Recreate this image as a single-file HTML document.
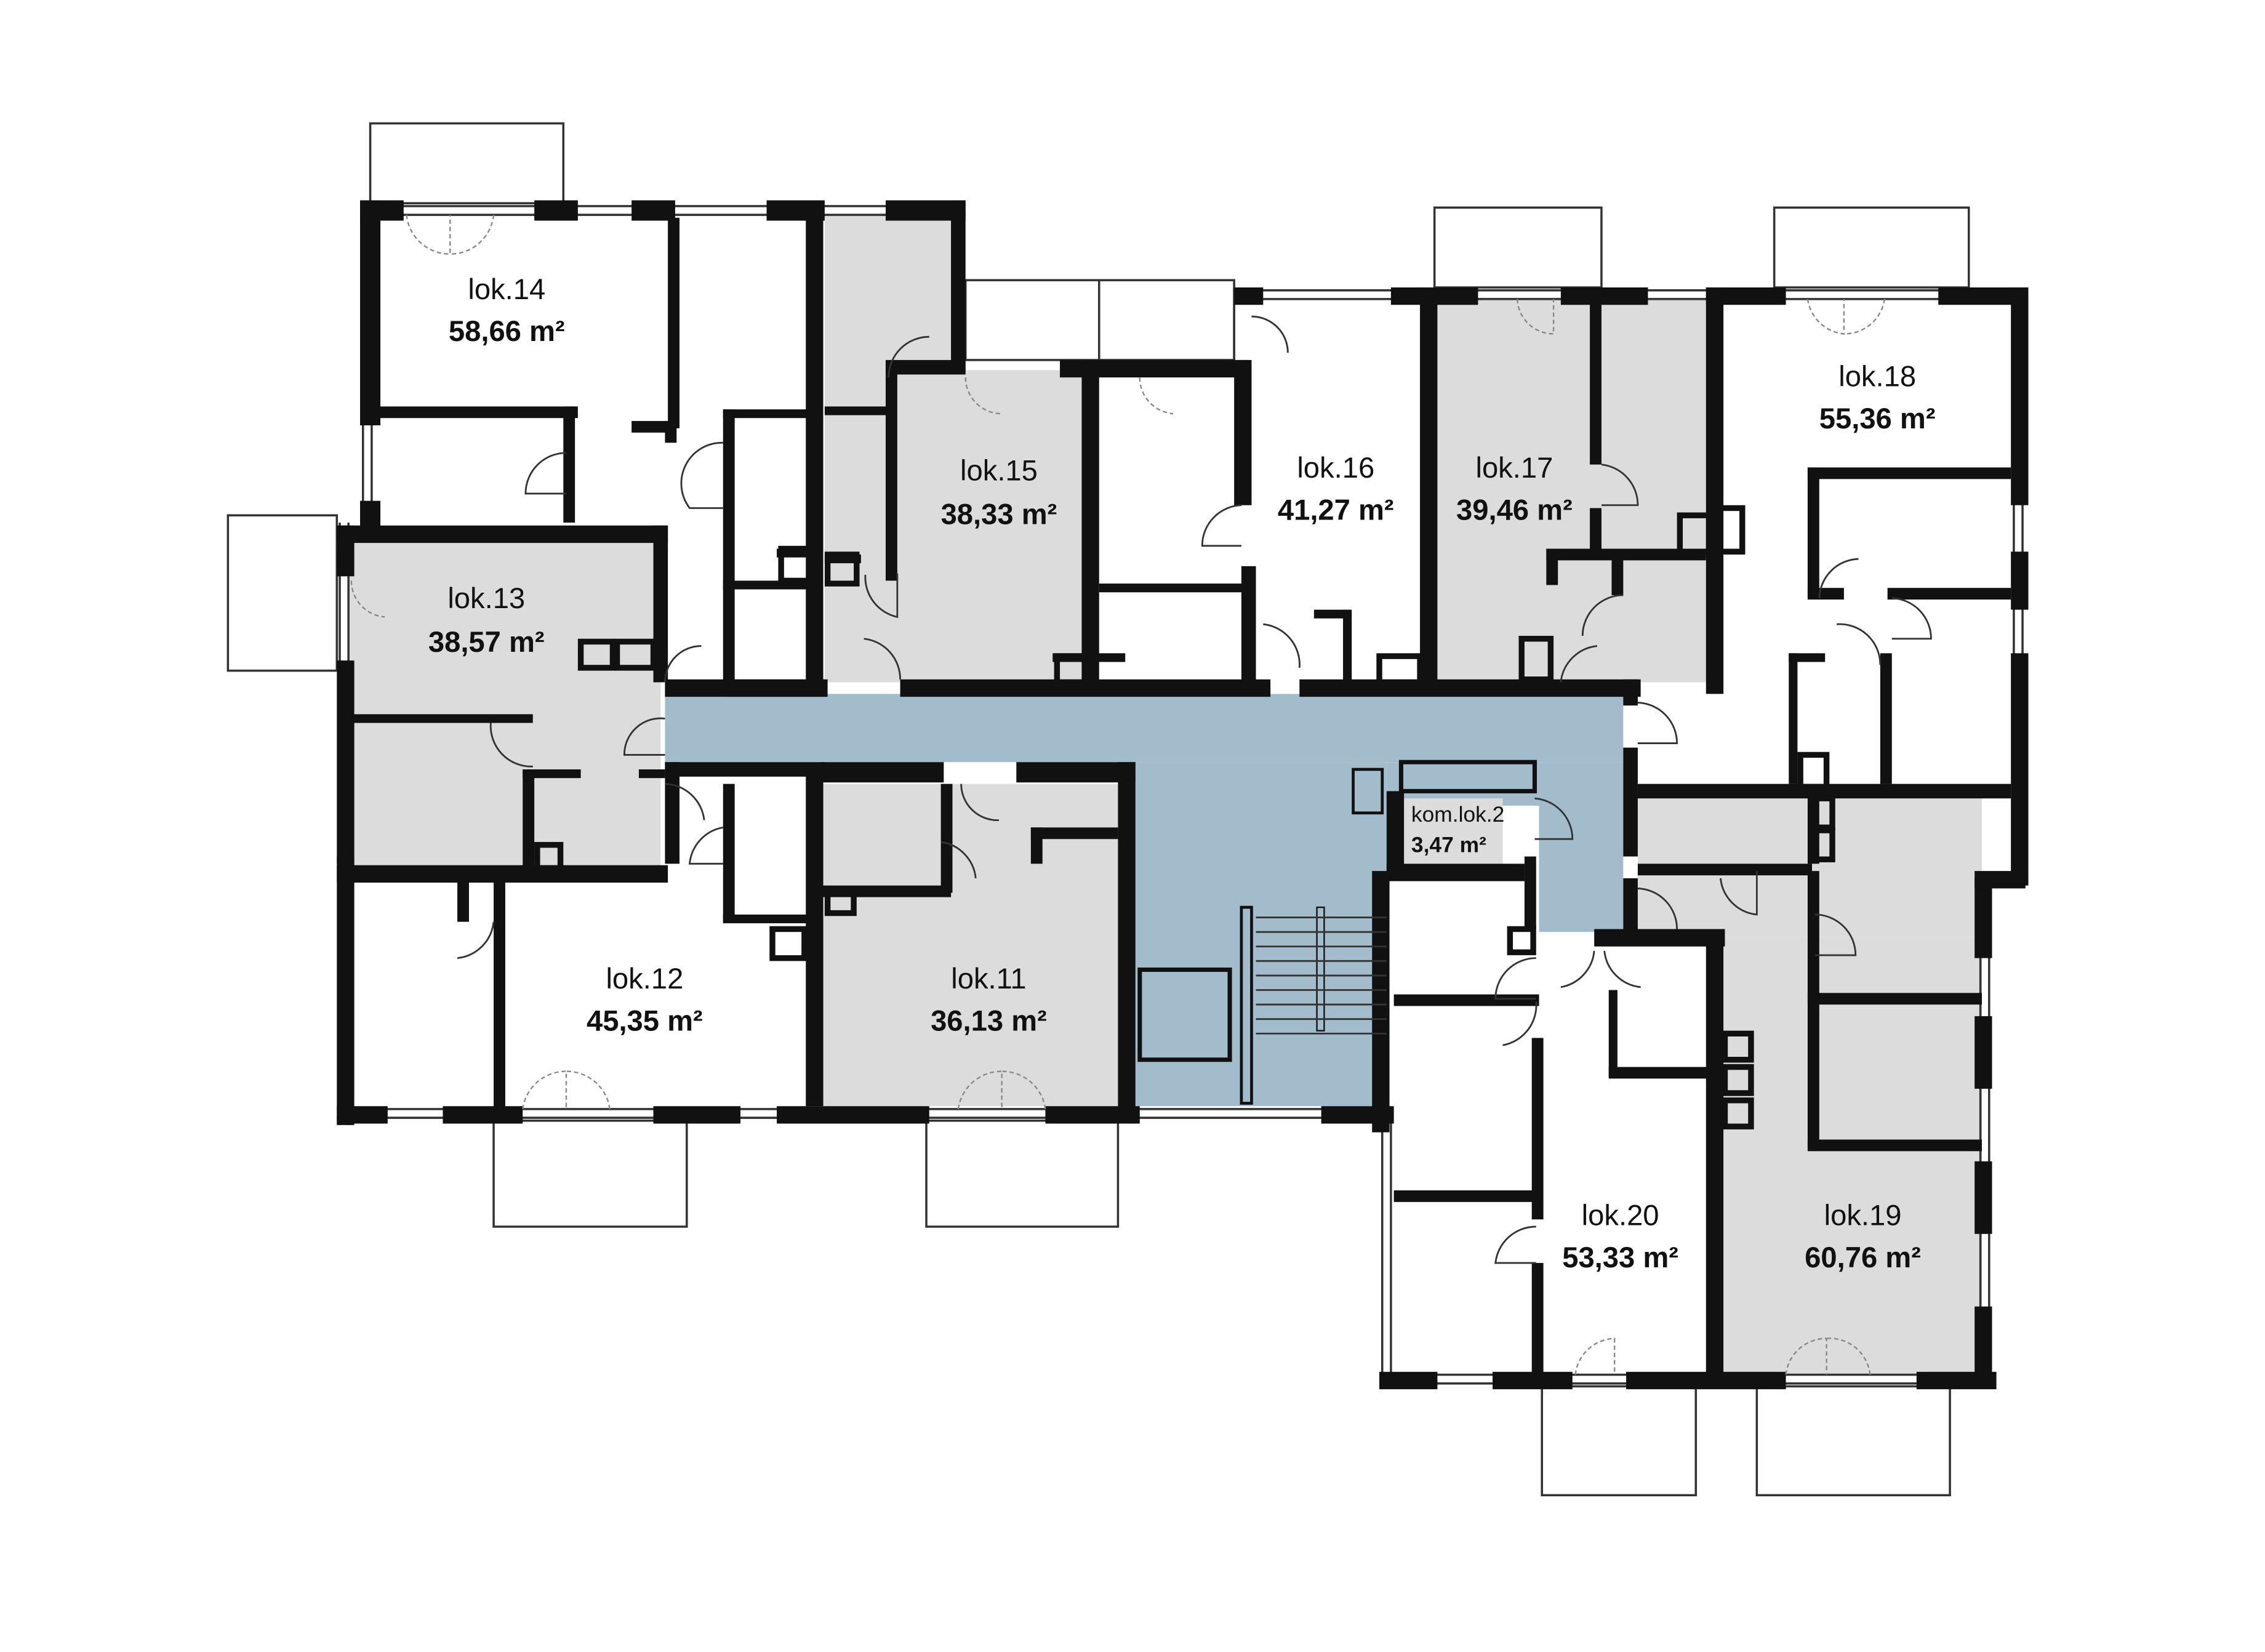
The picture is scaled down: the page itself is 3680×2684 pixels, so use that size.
<!DOCTYPE html>
<html><head><meta charset="utf-8"><style>
html,body{margin:0;padding:0;background:#fff}
svg{display:block}
text{font-family:"Liberation Sans",sans-serif;fill:#111}
.n{font-size:20px}
.a{font-size:20px;font-weight:bold}
</style></head><body>
<svg width="3680" height="2684" viewBox="0 0 1560 1138" preserveAspectRatio="none" xmlns="http://www.w3.org/2000/svg">
<rect width="1560" height="1138" fill="#fff"/>
<g fill="#dcdcdc">
<rect x="568" y="148" width="90" height="322"/>
<rect x="610" y="255" width="142" height="215"/>
<rect x="240" y="370" width="215" height="232"/>
<rect x="985" y="205" width="195" height="265"/>
<rect x="565" y="540" width="210" height="222"/>
<rect x="1128" y="545" width="237" height="100"/>
<rect x="1187" y="645" width="178" height="302"/>
</g>
<g fill="#a3bccb">
<rect x="458" y="478" width="660" height="47"/>
<rect x="780" y="525" width="175" height="237"/>
<rect x="1060" y="525" width="58" height="117"/>
<rect x="955" y="525" width="105" height="30"/>
</g>
<rect x="965" y="550" width="70" height="45" fill="#dcdcdc"/>
<g fill="none" stroke="#333" stroke-width="1.5">
<rect x="255" y="85" width="133" height="55"/>
<rect x="157" y="355" width="75" height="107"/>
<rect x="340" y="772" width="133" height="73"/>
<rect x="638" y="772" width="132" height="73"/>
<rect x="988" y="143" width="115" height="55"/>
<rect x="1222" y="143" width="134" height="55"/>
<rect x="1062" y="955" width="106" height="75"/>
<rect x="1210" y="955" width="133" height="75"/>
<rect x="665" y="193" width="185" height="55"/>
<line x1="757" y1="193" x2="757" y2="248"/>
<line x1="248" y1="142" x2="665" y2="142"/>
<line x1="248" y1="148" x2="665" y2="148"/>
<line x1="850" y1="200" x2="1395" y2="200"/>
<line x1="850" y1="206" x2="1395" y2="206"/>
<line x1="232" y1="764" x2="955" y2="764"/>
<line x1="232" y1="770" x2="955" y2="770"/>
<line x1="950" y1="947" x2="1372" y2="947"/>
<line x1="950" y1="953" x2="1372" y2="953"/>
<line x1="234" y1="360" x2="234" y2="775"/>
<line x1="240" y1="360" x2="240" y2="775"/>
<line x1="250" y1="140" x2="250" y2="365"/>
<line x1="256" y1="140" x2="256" y2="365"/>
<line x1="1387" y1="198" x2="1387" y2="610"/>
<line x1="1393" y1="198" x2="1393" y2="610"/>
<line x1="1364" y1="605" x2="1364" y2="955"/>
<line x1="1370" y1="605" x2="1370" y2="955"/>
<line x1="952" y1="770" x2="952" y2="955"/>
<line x1="958" y1="770" x2="958" y2="955"/>
<line x1="850" y1="198" x2="850" y2="248"/>
</g>
<g fill="#111">
<rect x="248" y="138" width="30" height="14"/>
<rect x="368" y="138" width="30" height="14"/>
<rect x="435" y="138" width="30" height="14"/>
<rect x="528" y="138" width="40" height="14"/>
<rect x="610" y="138" width="55" height="14"/>
<rect x="248" y="138" width="14" height="155"/>
<rect x="248" y="345" width="14" height="22"/>
<rect x="655" y="138" width="10" height="118"/>
<rect x="232" y="362" width="228" height="12"/>
<rect x="450" y="362" width="10" height="108"/>
<rect x="232" y="362" width="12" height="35"/>
<rect x="232" y="455" width="12" height="140"/>
<rect x="232" y="590" width="12" height="185"/>
<rect x="232" y="596" width="228" height="12"/>
<rect x="232" y="762" width="35" height="12"/>
<rect x="305" y="762" width="55" height="12"/>
<rect x="450" y="762" width="60" height="12"/>
<rect x="535" y="762" width="105" height="12"/>
<rect x="720" y="762" width="65" height="12"/>
<rect x="910" y="762" width="50" height="12"/>
<rect x="945" y="600" width="12" height="180"/>
<rect x="258" y="280" width="140" height="8"/>
<rect x="388" y="280" width="8" height="80"/>
<rect x="460" y="150" width="8" height="145"/>
<rect x="435" y="290" width="30" height="8"/>
<rect x="458" y="290" width="8" height="15"/>
<rect x="555" y="150" width="12" height="325"/>
<rect x="498" y="282" width="8" height="190"/>
<rect x="498" y="282" width="60" height="6"/>
<rect x="498" y="400" width="60" height="6"/>
<rect x="535" y="378" width="25" height="6"/>
<rect x="568" y="280" width="45" height="6"/>
<rect x="610" y="250" width="8" height="150"/>
<rect x="568" y="382" width="25" height="6"/>
<rect x="610" y="248" width="55" height="10"/>
<rect x="730" y="248" width="130" height="12"/>
<rect x="745" y="250" width="12" height="220"/>
<rect x="850" y="248" width="12" height="100"/>
<rect x="855" y="390" width="10" height="85"/>
<rect x="757" y="402" width="100" height="6"/>
<rect x="725" y="450" width="50" height="6"/>
<rect x="850" y="198" width="20" height="12"/>
<rect x="958" y="198" width="60" height="12"/>
<rect x="1075" y="198" width="60" height="12"/>
<rect x="1175" y="198" width="55" height="12"/>
<rect x="1335" y="198" width="60" height="12"/>
<rect x="978" y="198" width="12" height="275"/>
<rect x="1095" y="205" width="8" height="115"/>
<rect x="1095" y="350" width="8" height="30"/>
<rect x="1175" y="198" width="12" height="280"/>
<rect x="1065" y="378" width="110" height="8"/>
<rect x="1065" y="378" width="8" height="25"/>
<rect x="1110" y="380" width="8" height="30"/>
<rect x="905" y="420" width="25" height="6"/>
<rect x="925" y="420" width="6" height="50"/>
<rect x="1385" y="198" width="12" height="150"/>
<rect x="1385" y="380" width="12" height="40"/>
<rect x="1385" y="450" width="12" height="160"/>
<rect x="1245" y="322" width="140" height="8"/>
<rect x="1245" y="322" width="8" height="90"/>
<rect x="1245" y="405" width="25" height="8"/>
<rect x="1300" y="405" width="85" height="8"/>
<rect x="1295" y="450" width="8" height="90"/>
<rect x="1232" y="450" width="25" height="6"/>
<rect x="1232" y="450" width="6" height="90"/>
<rect x="1128" y="540" width="257" height="10"/>
<rect x="1360" y="600" width="35" height="12"/>
<rect x="458" y="468" width="110" height="12"/>
<rect x="500" y="468" width="70" height="12"/>
<rect x="620" y="468" width="255" height="12"/>
<rect x="895" y="468" width="235" height="12"/>
<rect x="1118" y="468" width="10" height="18"/>
<rect x="1118" y="515" width="10" height="75"/>
<rect x="1118" y="605" width="10" height="40"/>
<rect x="458" y="525" width="10" height="70"/>
<rect x="458" y="525" width="110" height="10"/>
<rect x="555" y="530" width="12" height="232"/>
<rect x="565" y="525" width="85" height="14"/>
<rect x="700" y="525" width="82" height="14"/>
<rect x="770" y="525" width="12" height="245"/>
<rect x="498" y="540" width="8" height="95"/>
<rect x="498" y="630" width="60" height="6"/>
<rect x="565" y="610" width="90" height="8"/>
<rect x="648" y="540" width="8" height="75"/>
<rect x="710" y="570" width="60" height="8"/>
<rect x="710" y="570" width="8" height="25"/>
<rect x="242" y="492" width="125" height="6"/>
<rect x="360" y="530" width="8" height="68"/>
<rect x="360" y="530" width="40" height="6"/>
<rect x="440" y="530" width="18" height="6"/>
<rect x="315" y="605" width="8" height="30"/>
<rect x="340" y="605" width="8" height="160"/>
<rect x="955" y="595" width="95" height="12"/>
<rect x="955" y="545" width="12" height="60"/>
<rect x="1050" y="590" width="8" height="50"/>
<rect x="1098" y="640" width="90" height="12"/>
<rect x="960" y="685" width="100" height="8"/>
<rect x="960" y="820" width="100" height="8"/>
<rect x="1055" y="715" width="8" height="125"/>
<rect x="1055" y="870" width="8" height="80"/>
<rect x="1108" y="682" width="6" height="60"/>
<rect x="1108" y="735" width="70" height="8"/>
<rect x="1175" y="645" width="12" height="305"/>
<rect x="1245" y="600" width="8" height="190"/>
<rect x="1245" y="684" width="120" height="8"/>
<rect x="1245" y="785" width="120" height="8"/>
<rect x="1245" y="545" width="8" height="50"/>
<rect x="1128" y="595" width="120" height="8"/>
<rect x="950" y="945" width="40" height="12"/>
<rect x="1028" y="945" width="55" height="12"/>
<rect x="1120" y="945" width="110" height="12"/>
<rect x="1320" y="945" width="55" height="12"/>
<rect x="1360" y="605" width="12" height="55"/>
<rect x="1360" y="700" width="12" height="50"/>
<rect x="1360" y="800" width="12" height="50"/>
<rect x="1360" y="900" width="12" height="55"/>
</g>
<g fill="none" stroke="#111" stroke-width="4">
<rect x="400" y="442" width="22" height="18"/>
<rect x="425" y="442" width="25" height="18"/>
<rect x="1157" y="355" width="20" height="25"/>
<rect x="1180" y="350" width="20" height="30"/>
<rect x="1048" y="440" width="20" height="28"/>
<rect x="950" y="452" width="28" height="18"/>
<rect x="728" y="452" width="20" height="18"/>
<rect x="538" y="378" width="20" height="22"/>
<rect x="570" y="382" width="20" height="20"/>
<rect x="370" y="582" width="16" height="16"/>
<rect x="532" y="640" width="22" height="20"/>
<rect x="570" y="615" width="18" height="14"/>
<rect x="1240" y="520" width="18" height="22"/>
<rect x="1248" y="550" width="14" height="20"/>
<rect x="1248" y="572" width="14" height="20"/>
<rect x="1188" y="712" width="18" height="18"/>
<rect x="1188" y="735" width="18" height="18"/>
<rect x="1188" y="758" width="18" height="18"/>
<rect x="1040" y="640" width="16" height="16"/>
</g>
<g fill="none" stroke="#111">
<rect x="785" y="668" width="62" height="62" stroke-width="3"/>
<rect x="855" y="625" width="7" height="135" stroke-width="2"/>
<rect x="932" y="530" width="20" height="30" stroke-width="2"/>
<rect x="965" y="525" width="92" height="20" stroke-width="3"/>
<rect x="907" y="625" width="5" height="85" stroke-width="1"/>
</g>
<g stroke="#333" stroke-width="1.2">
<line x1="865" y1="632" x2="955" y2="632"/><line x1="865" y1="642" x2="955" y2="642"/>
<line x1="865" y1="652" x2="955" y2="652"/><line x1="865" y1="662" x2="955" y2="662"/>
<line x1="865" y1="672" x2="955" y2="672"/><line x1="865" y1="682" x2="955" y2="682"/>
<line x1="865" y1="692" x2="955" y2="692"/><line x1="865" y1="702" x2="955" y2="702"/>
<line x1="865" y1="712" x2="955" y2="712"/>
</g>
<g fill="none" stroke="#333" stroke-width="1.2">
<path d="M390 312 A28 28 0 0 0 362 340 L390 340"/>
<path d="M498 305 A28 28 0 0 0 475 350 L498 350"/>
<path d="M612 260 A28 28 0 0 1 640 232"/>
<path d="M618 395 L618 425 A28 28 0 0 1 596 396"/>
<path d="M855 348 A28 28 0 0 0 828 376 L855 376"/>
<path d="M1103 320 A28 28 0 0 1 1128 348 L1103 348"/>
<path d="M1118 410 A28 28 0 0 0 1090 438"/>
<path d="M1253 412 A28 28 0 0 1 1280 385"/>
<path d="M1303 412 A28 28 0 0 1 1330 440 L1303 440"/>
<path d="M1295 458 A28 28 0 0 0 1265 430"/>
<path d="M1128 484 A28 28 0 0 1 1155 512 L1128 512"/>
<path d="M458 470 A25 25 0 0 1 483 445"/>
<path d="M458 495 A25 25 0 0 0 430 520 L458 520"/>
<path d="M367 528 A28 28 0 0 1 338 498"/>
<path d="M458 540 A28 28 0 0 1 485 565"/>
<path d="M498 570 A28 28 0 0 0 475 595 L498 595"/>
<path d="M340 635 A28 28 0 0 1 315 660"/>
<path d="M648 580 A28 28 0 0 1 672 605"/>
<path d="M662 540 A25 25 0 0 0 688 565"/>
<path d="M1057 550 A28 28 0 0 1 1083 578 L1057 578"/>
<path d="M1058 660 A28 28 0 0 0 1030 688 L1058 688"/>
<path d="M1058 690 A28 28 0 0 1 1035 720"/>
<path d="M1098 655 A28 28 0 0 1 1075 680"/>
<path d="M1105 655 A28 28 0 0 0 1130 680"/>
<path d="M1058 845 A28 28 0 0 0 1030 870 L1058 870"/>
<path d="M1185 605 A28 28 0 0 0 1210 630 L1210 600"/>
<path d="M1250 630 A28 28 0 0 1 1278 658 L1250 658"/>
<path d="M1128 612 A28 28 0 0 1 1155 640"/>
<path d="M870 430 A28 28 0 0 1 895 460"/>
<path d="M595 440 A28 28 0 0 1 620 468"/>
<path d="M1075 470 A28 28 0 0 1 1100 445"/>
<path d="M862 218 A25 25 0 0 1 887 243"/>
</g>
<g fill="none" stroke="#888" stroke-width="1" stroke-dasharray="3,2">
<path d="M280 148 A30 30 0 0 0 310 175 L310 148 M340 148 A30 30 0 0 1 310 175"/>
<path d="M1245 206 A28 28 0 0 0 1270 230 L1270 206 M1298 206 A28 28 0 0 1 1270 230"/>
<path d="M1045 206 A25 25 0 0 0 1070 230 L1070 206"/>
<path d="M360 764 A30 30 0 0 1 390 738 L390 764 M420 764 A30 30 0 0 0 390 738"/>
<path d="M660 764 A30 30 0 0 1 690 738 L690 764 M720 764 A30 30 0 0 0 690 738"/>
<path d="M1230 947 A28 28 0 0 1 1258 922 L1258 947 M1288 947 A28 28 0 0 0 1258 922"/>
<path d="M1085 947 A28 28 0 0 1 1112 922 L1112 947"/>
<path d="M242 400 A25 25 0 0 0 265 425"/>
<path d="M665 260 A25 25 0 0 0 690 285"/>
<path d="M785 260 A25 25 0 0 0 808 285"/>
</g>
<text class="n" x="349" y="206" text-anchor="middle">lok.14</text>
<text class="a" x="349" y="235" text-anchor="middle">58,66 m²</text>
<text class="n" x="688" y="331" text-anchor="middle">lok.15</text>
<text class="a" x="688" y="361" text-anchor="middle">38,33 m²</text>
<text class="n" x="335" y="419" text-anchor="middle">lok.13</text>
<text class="a" x="335" y="449" text-anchor="middle">38,57 m²</text>
<text class="n" x="920" y="329" text-anchor="middle">lok.16</text>
<text class="a" x="920" y="358" text-anchor="middle">41,27 m²</text>
<text class="n" x="1043" y="329" text-anchor="middle">lok.17</text>
<text class="a" x="1043" y="358" text-anchor="middle">39,46 m²</text>
<text class="n" x="1293" y="266" text-anchor="middle">lok.18</text>
<text class="a" x="1293" y="295" text-anchor="middle">55,36 m²</text>
<text class="n" x="444" y="681" text-anchor="middle">lok.12</text>
<text class="a" x="444" y="710" text-anchor="middle">45,35 m²</text>
<text class="n" x="681" y="681" text-anchor="middle">lok.11</text>
<text class="a" x="681" y="710" text-anchor="middle">36,13 m²</text>
<text class="n" x="1116" y="844" text-anchor="middle">lok.20</text>
<text class="a" x="1116" y="873" text-anchor="middle">53,33 m²</text>
<text class="n" x="1283" y="844" text-anchor="middle">lok.19</text>
<text class="a" x="1283" y="873" text-anchor="middle">60,76 m²</text>
<text x="972" y="566" style="font-size:15px">kom.lok.2</text>
<text x="972" y="587" style="font-size:15px;font-weight:bold">3,47 m²</text>
</svg>
</body></html>
